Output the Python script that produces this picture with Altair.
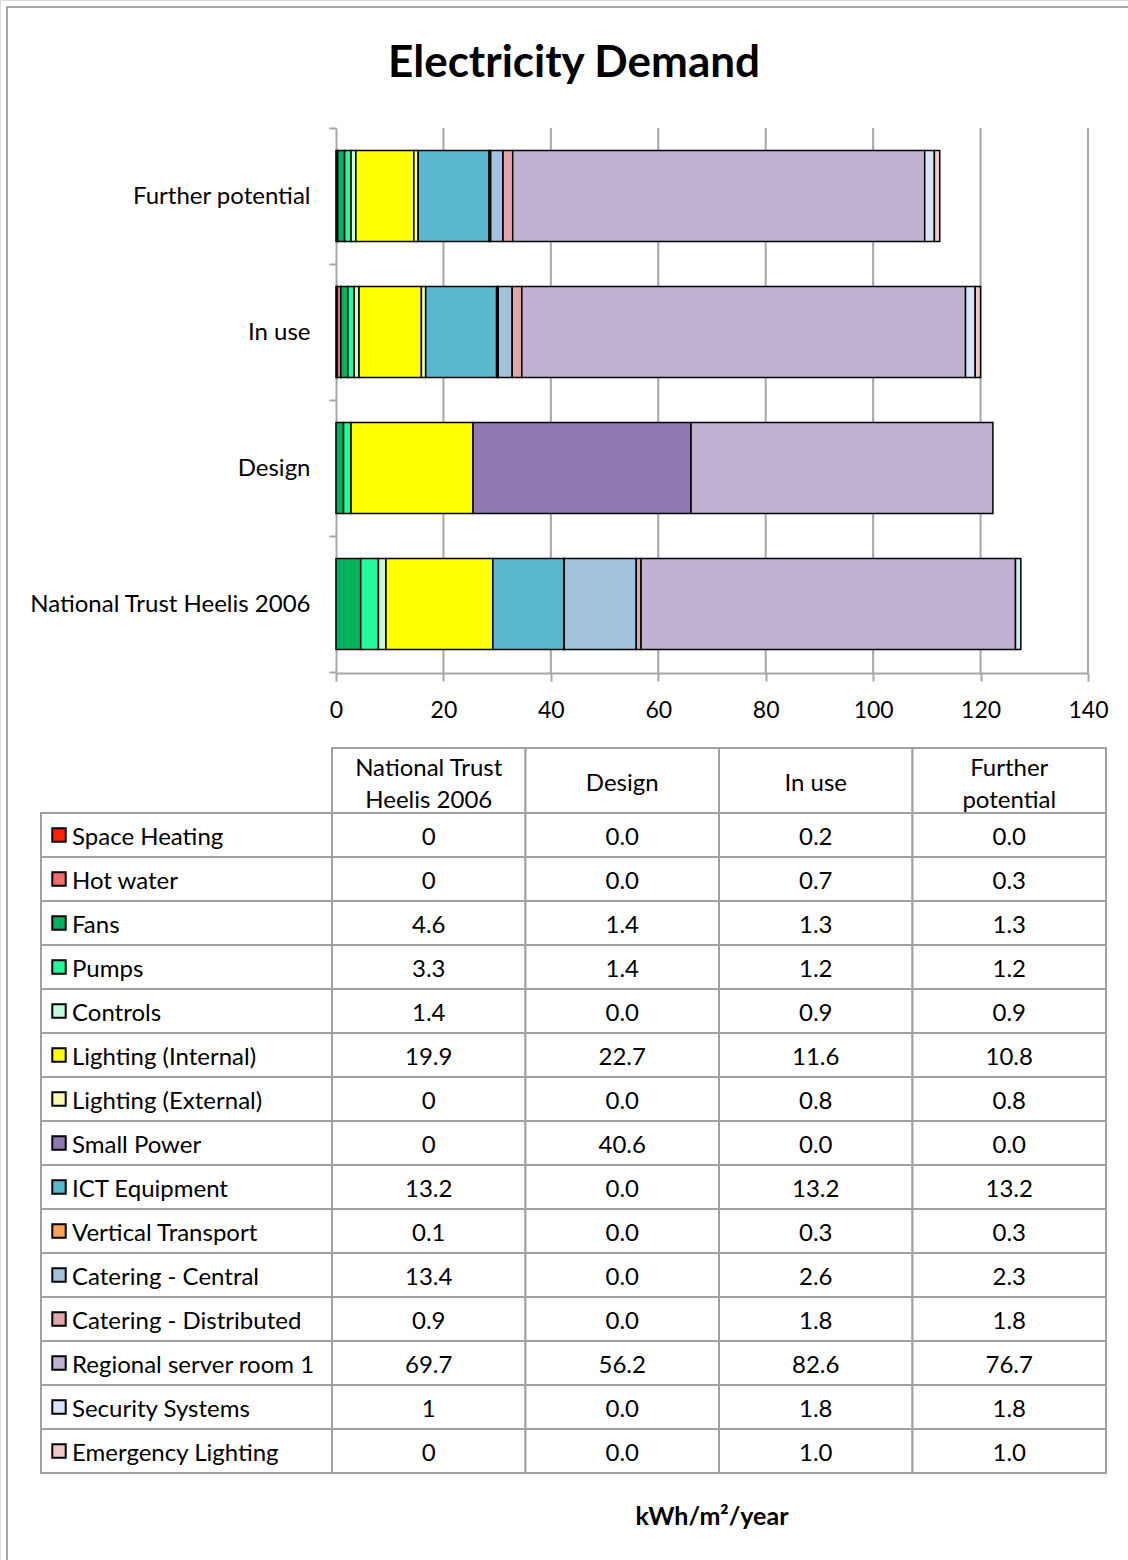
import altair as alt
import pandas as pd

W, H = 1128, 1560
FONT = "Lato"

chart_title = "Electricity Demand"
unit_label = "kWh/m²/year"

scenarios = ["National Trust Heelis 2006", "Design", "In use", "Further potential"]
bar_order = ["Further potential", "In use", "Design", "National Trust Heelis 2006"]
header_labels = ["National Trust\nHeelis 2006", "Design", "In use", "Further\npotential"]

series = ["Space Heating", "Hot water", "Fans", "Pumps", "Controls",
          "Lighting (Internal)", "Lighting (External)", "Small Power",
          "ICT Equipment", "Vertical Transport", "Catering - Central",
          "Catering - Distributed", "Regional server room 1",
          "Security Systems", "Emergency Lighting"]
colors = ["#FF2200", "#F86C6C", "#00B25C", "#22FA9C", "#C2FCE0",
          "#FFFF00", "#FBF9B0", "#9079B0", "#57B8D0", "#FBA552",
          "#A4C1DE", "#E3A6A8", "#C1B2D4", "#D6E6F8", "#F0C8C6"]

nt_heelis = [0, 0, 4.6, 3.3, 1.4, 19.9, 0, 0, 13.2, 0.1, 13.4, 0.9, 69.7, 1, 0]
design = [0.0, 0.0, 1.4, 1.4, 0.0, 22.7, 0.0, 40.6, 0.0, 0.0, 0.0, 0.0, 56.2, 0.0, 0.0]
in_use = [0.2, 0.7, 1.3, 1.2, 0.9, 11.6, 0.8, 0.0, 13.2, 0.3, 2.6, 1.8, 82.6, 1.8, 1.0]
further = [0.0, 0.3, 1.3, 1.2, 0.9, 10.8, 0.8, 0.0, 13.2, 0.3, 2.3, 1.8, 76.7, 1.8, 1.0]

x_ticks = [0, 20, 40, 60, 80, 100, 120, 140]

columns = [nt_heelis, design, in_use, further]

# ---- data frames built from the lists ----
bar_rows, table_rows = [], []
for scen, vals in zip(scenarios, columns):
    for i, (s, v) in enumerate(zip(series, vals)):
        if v > 0:
            bar_rows.append({"scenario": scen, "series": s, "value": v, "idx": i})
        if scen == scenarios[0]:
            txt = str(v)
        else:
            txt = f"{v:.1f}"
        table_rows.append({"column": scen, "series": s, "label": txt})
bar_df = pd.DataFrame(bar_rows)
table_df = pd.DataFrame(table_rows)
series_df = pd.DataFrame({"series": series})
header_df = pd.DataFrame({"column": scenarios, "header": header_labels,
                          "nlines": [h.count("\n") + 1 for h in header_labels]})
grid_df = pd.DataFrame({"tick": x_ticks[1:]})
one = pd.DataFrame({"t": [chart_title], "u": [unit_label]})

GRID = "#A6A6A6"
FS = 24

xscale = alt.Scale(domain=[0, 140], range=[336, 1088], nice=False, zero=True)
yscale = alt.Scale(domain=bar_order, range=[128, 672], paddingInner=0, paddingOuter=0)

grid = alt.Chart(grid_df).mark_rule(color=GRID, strokeWidth=2).encode(
    x=alt.X("tick:Q", scale=xscale),
    y=alt.value(128),
    y2=alt.value(673),
)

bars = alt.Chart(bar_df).mark_bar(stroke="black", strokeWidth=1.5,
                                  height=alt.RelativeBandSize(0.67)).encode(
    x=alt.X("value:Q", stack="zero", scale=xscale,
            axis=alt.Axis(title=None, orient="bottom", offset=673 - H, values=x_ticks,
                          grid=False, domainColor=GRID, domainWidth=2,
                          tickColor=GRID, tickWidth=2, tickSize=8,
                          labelFontSize=23, labelFont=FONT, labelColor="black",
                          labelPadding=18, labelFlush=False, labelOverlap=False)),
    y=alt.Y("scenario:N", sort=bar_order, scale=yscale,
            axis=alt.Axis(title=None, orient="left", offset=-336,
                          domainColor=GRID, domainWidth=2, tickColor=GRID,
                          tickWidth=2, tickSize=7, tickBand="extent",
                          labelFontSize=FS, labelFont=FONT, labelColor="black",
                          labelPadding=19, labelLimit=400)),
    color=alt.Color("series:N", scale=alt.Scale(domain=series, range=colors), legend=None),
    order=alt.Order("idx:Q"),
)

unit = alt.Chart(one).mark_text(fontSize=25, fontWeight="bold", font=FONT, baseline="middle").encode(
    x=alt.datum(70),
    y=alt.value(1517),
    text="u:N",
)

plot_group = alt.layer(grid, bars, unit)

# ---- data table ----
colscale = alt.Scale(domain=scenarios, range=[332, 1106], paddingInner=0, paddingOuter=0)
rowscale = alt.Scale(domain=series, range=[813, 1473], paddingInner=0, paddingOuter=0)
TB = "#A0A0A0"

label_cells = alt.Chart(series_df).mark_rect(fill="white", stroke=TB, strokeWidth=2).encode(
    x=alt.value(41), x2=alt.value(332),
    y=alt.Y("series:N", scale=rowscale, axis=None),
)
data_cells = alt.Chart(table_df).mark_rect(fill="white", stroke=TB, strokeWidth=2).encode(
    x=alt.X("column:N", scale=colscale, axis=None),
    y=alt.Y("series:N", scale=rowscale, axis=None),
)
header_cells = alt.Chart(header_df).mark_rect(fill="white", stroke=TB, strokeWidth=2).encode(
    x=alt.X("column:N", scale=colscale, axis=None),
    y=alt.value(748), y2=alt.value(813),
)
header_one = alt.Chart(header_df).transform_filter(alt.datum.nlines == 1).mark_text(
    fontSize=FS, font=FONT, baseline="middle", color="black"
).encode(
    x=alt.X("column:N", scale=colscale, axis=None),
    y=alt.value(784),
    text="header:N",
)
header_two = alt.Chart(header_df).transform_filter(alt.datum.nlines == 2).mark_text(
    fontSize=FS, font=FONT, lineBreak="\n", lineHeight=32, baseline="middle", color="black"
).encode(
    x=alt.X("column:N", scale=colscale, axis=None),
    y=alt.value(769),
    text="header:N",
)
value_text = alt.Chart(table_df).mark_text(
    fontSize=FS, font=FONT, baseline="middle", color="black", dy=3
).encode(
    x=alt.X("column:N", scale=colscale, axis=None),
    y=alt.Y("series:N", scale=rowscale, axis=None),
    text="label:N",
)
swatches = alt.Chart(series_df).mark_square(
    size=180, stroke="black", strokeWidth=2, opacity=1, filled=True
).encode(
    x=alt.value(59),
    y=alt.Y("series:N", scale=rowscale, axis=None),
    fill=alt.Color("series:N", scale=alt.Scale(domain=series, range=colors), legend=None),
)
series_text = alt.Chart(series_df).mark_text(
    fontSize=FS, font=FONT, baseline="middle", align="left", color="black", dy=3
).encode(
    x=alt.value(72),
    y=alt.Y("series:N", scale=rowscale, axis=None),
    text="series:N",
)
title_text = alt.Chart(one).mark_text(
    fontSize=44, fontWeight="bold", font=FONT, baseline="middle", color="black"
).encode(
    x=alt.value(574), y=alt.value(64), text="t:N",
)
frame = alt.Chart(one).mark_rect(filled=False, stroke="#8C8C8C", strokeWidth=1.5).encode(
    x=alt.value(7), x2=alt.value(W + 20), y=alt.value(7), y2=alt.value(H + 20),
)

table_group = alt.layer(frame, title_text, label_cells, data_cells, header_cells,
                        header_one, header_two, value_text, swatches, series_text)

chart = alt.layer(plot_group, table_group).resolve_scale(
    x="independent", y="independent", color="independent", fill="independent"
).properties(
    width=W, height=H, autosize=alt.AutoSizeParams(type="none"), padding=0
).configure_view(strokeWidth=0).configure(font=FONT)

chart.save("out.html", embed_options={"renderer": "svg", "actions": False})
